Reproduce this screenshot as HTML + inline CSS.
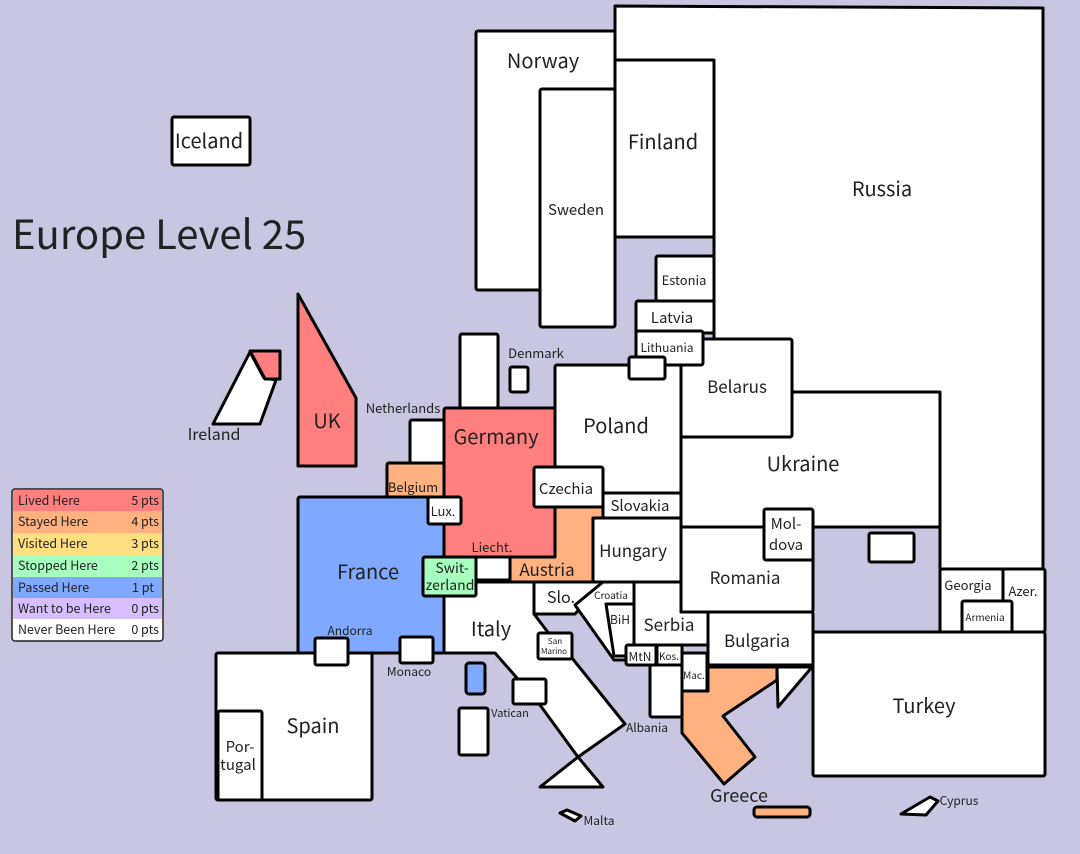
<!DOCTYPE html>
<html><head><meta charset="utf-8"><style>
html,body{margin:0;padding:0;background:#c8c6e0;}
svg{display:block;}
text{font-family:"Noto Sans CJK JP","Liberation Sans",sans-serif;fill:#222;}
.s{stroke:#000;stroke-width:3;stroke-linejoin:round;}
.w{fill:#fff;}
</style></head><body>
<svg width="1080" height="854" viewBox="0 0 1080 854" xmlns="http://www.w3.org/2000/svg">
<rect width="1080" height="854" fill="#c8c6e0"/>
<g class="s">
<polygon class="w" points="615,6 1043,8 1043,569 940,569 940,392 714,392 714,60 615,60"/>
<rect class="w" x="476" y="31" width="139" height="259" rx="2"/>
<rect class="w" x="540" y="89" width="75" height="238" rx="2"/>
<rect class="w" x="615" y="60" width="99" height="177" rx="2"/>
<rect class="w" x="656" y="256" width="58" height="45" rx="2"/>
<rect class="w" x="636" y="301" width="78" height="32" rx="2"/>
<rect class="w" x="681" y="392" width="259" height="135" rx="2"/>
<rect class="w" x="681" y="339" width="111" height="98" rx="2"/>
<rect class="w" x="555" y="365" width="126" height="128" rx="2"/>
<rect class="w" x="636" y="331" width="67" height="34" rx="2"/>
<rect class="w" x="629" y="357" width="36" height="22" rx="2"/>
<rect class="w" x="869" y="533" width="45" height="29" rx="2"/>
<rect class="w" x="681" y="527" width="132" height="85" rx="2"/>
<rect class="w" x="764" y="509" width="49" height="51" rx="2"/>
<rect class="w" x="940" y="569" width="63" height="63" rx="2"/>
<rect class="w" x="1003" y="569" width="42" height="63" rx="2"/>
<rect class="w" x="962" y="601" width="50" height="31" rx="2"/>
<rect class="w" x="813" y="632" width="232" height="144" rx="2"/>
<rect class="w" x="460" y="334" width="38" height="74" rx="2"/>
<rect class="w" x="510" y="367" width="18" height="25" rx="2"/>
<polygon fill="#ffb27f" points="555,507 603,507 603,518 593,518 593,582 510,582 510,557 555,557"/>
<rect fill="#ff7f7f" x="444" y="408" width="111" height="149" rx="2"/>
<rect class="w" x="534" y="467" width="69" height="40" rx="2"/>
<rect class="w" x="603" y="493" width="78" height="25" rx="2"/>
<rect class="w" x="593" y="518" width="88" height="64" rx="2"/>
<rect class="w" x="410" y="420" width="34" height="54" rx="2"/>
<rect fill="#ffb27f" x="387" y="463" width="57" height="34" rx="2"/>
<rect fill="#7fa9ff" x="298" y="497" width="146" height="156" rx="2"/>
<rect class="w" x="428" y="497" width="33" height="27" rx="2"/>
<polygon class="w" points="444,582 534,582 534,614 550,635 572,658 625,724 578,757 540,705 517,678 495,653 444,653"/>
<polygon class="w" points="578,757 603,787 540,787"/>
<rect fill="#a6ffbf" x="423" y="557" width="53" height="39" rx="2"/>
<rect class="w" x="476" y="557" width="34" height="23" rx="2"/>
<polygon class="w" points="534,582 603,582 575,614 534,614"/>
<polygon class="w" points="603,582 634,582 634,660 614,660 575,605"/>
<polygon class="w" points="606,604 634,604 634,656 614,656"/>
<polygon class="w" points="634,582 681,582 681,612 708,612 708,645 634,645"/>
<rect class="w" x="708" y="612" width="105" height="53" rx="2"/>
<rect class="w" x="626" y="645" width="30" height="20" rx="2"/>
<rect class="w" x="657" y="645" width="25" height="20" rx="2"/>
<rect class="w" x="650" y="665" width="32" height="52" rx="2"/>
<rect class="w" x="682" y="653" width="25" height="38" rx="2"/>
<polygon fill="#ffb27f" points="682,691 708,691 708,667 777,667 777,680 723,716 755,757 724,784 682,733"/>
<polygon class="w" points="777,667 812,667 778,707"/>
<rect class="w" x="538" y="633" width="34" height="26" rx="2"/>
<rect class="w" x="513" y="679" width="33" height="25" rx="2"/>
<rect fill="#7fa9ff" x="466" y="663" width="19" height="31" rx="3"/>
<rect class="w" x="459" y="708" width="29" height="47" rx="2"/>
<rect class="w" x="216" y="653" width="156" height="147" rx="2"/>
<rect class="w" x="218" y="711" width="44" height="89" rx="2"/>
<rect class="w" x="315" y="638" width="33" height="27" rx="2"/>
<rect class="w" x="400" y="637" width="33" height="26" rx="2"/>
<polygon fill="#ff7f7f" points="298,294 356,398 356,466 298,466"/>
<polygon class="w" points="213,424 250,352 264,378 276,380 260,424"/>
<polygon fill="#ff7f7f" points="250,351 280,351 280,379 265,379"/>
<rect class="w" x="172" y="117" width="78" height="48" rx="2"/>
<polygon class="w" points="560,813 567,810 581,816 575,821"/>
<polygon class="w" points="901,814 930,797 938,801 926,815"/>
<rect fill="#ffb27f" x="754" y="807" width="56" height="10" rx="3"/>
</g>
<text x="12" y="249" font-size="40">Europe Level 25</text>
<g font-size="20" text-anchor="middle">
<text x="543" y="68">Norway</text>
<text x="663" y="149">Finland</text>
<text x="882" y="196">Russia</text>
<text x="209" y="148">Iceland</text>
<text x="616" y="433">Poland</text>
<text x="803" y="471">Ukraine</text>
<text x="496" y="444">Germany</text>
<text x="368" y="579">France</text>
<text x="491" y="636">Italy</text>
<text x="313" y="733">Spain</text>
<text x="327" y="428">UK</text>
<text x="924" y="713">Turkey</text>
</g>
<g font-size="17" text-anchor="middle">
<text x="737" y="393">Belarus</text>
<text x="576" y="215" font-size="15">Sweden</text>
<text x="566" y="494" font-size="15">Czechia</text>
<text x="640" y="511" font-size="15">Slovakia</text>
<text x="633" y="557">Hungary</text>
<text x="745" y="584">Romania</text>
<text x="669" y="631">Serbia</text>
<text x="757" y="647">Bulgaria</text>
<text x="547" y="576">Austria</text>
<text x="561" y="603" font-size="16">Slo.</text>
<text x="672" y="323" font-size="15">Latvia</text>
<text x="786" y="529" font-size="15">Mol-</text>
<text x="786" y="550" font-size="15">dova</text>
<text x="452" y="573" font-size="14">Swit-</text>
<text x="450" y="590" font-size="14">zerland</text>
<text x="240" y="752" font-size="15">Por-</text>
<text x="238" y="770" font-size="15">tugal</text>
<text x="739" y="802" font-size="18">Greece</text>
<text x="214" y="440" font-size="16">Ireland</text>
</g>
<g font-size="13" text-anchor="middle">
<text x="684" y="285">Estonia</text>
<text x="667" y="352" font-size="12">Lithuania</text>
<text x="536" y="358">Denmark</text>
<text x="403" y="413">Netherlands</text>
<text x="413" y="492">Belgium</text>
<text x="443" y="516">Lux.</text>
<text x="492" y="552">Liecht.</text>
<text x="350" y="635" font-size="12">Andorra</text>
<text x="409" y="676" font-size="12">Monaco</text>
<text x="510" y="717" font-size="11">Vatican</text>
<text x="647" y="732" font-size="12">Albania</text>
<text x="611" y="599" font-size="10">Croatia</text>
<text x="620" y="624" font-size="12">BiH</text>
<text x="640" y="661" font-size="12">MtN</text>
<text x="669" y="660" font-size="10">Kos.</text>
<text x="694" y="679" font-size="10">Mac.</text>
<text x="555" y="644" font-size="8">San</text>
<text x="554" y="654" font-size="8">Marino</text>
<text x="968" y="590">Georgia</text>
<text x="1023" y="596">Azer.</text>
<text x="985" y="621" font-size="10">Armenia</text>
<text x="599" y="825" font-size="12">Malta</text>
<text x="959" y="805" font-size="12">Cyprus</text>
</g>
<g>
<rect x="12" y="489" width="151" height="152" rx="3" fill="#fff" stroke="#222" stroke-width="1.5"/>
<rect x="13" y="490" width="149" height="21" fill="#ff7f7f"/>
<rect x="13" y="511" width="149" height="22" fill="#ffb27f"/>
<rect x="13" y="533" width="149" height="22" fill="#ffdf7f"/>
<rect x="13" y="555" width="149" height="22" fill="#a6ffbf"/>
<rect x="13" y="577" width="149" height="21" fill="#7fa9ff"/>
<rect x="13" y="598" width="149" height="21" fill="#d7bfff"/>
<g font-size="12.5">
<text x="18" y="505">Lived Here</text><text x="159" y="505" text-anchor="end">5 pts</text>
<text x="18" y="526">Stayed Here</text><text x="159" y="526" text-anchor="end">4 pts</text>
<text x="18" y="548">Visited Here</text><text x="159" y="548" text-anchor="end">3 pts</text>
<text x="18" y="570">Stopped Here</text><text x="159" y="570" text-anchor="end">2 pts</text>
<text x="18" y="592">Passed Here</text><text x="154" y="592" text-anchor="end">1 pt</text>
<text x="18" y="613">Want to be Here</text><text x="159" y="613" text-anchor="end">0 pts</text>
<text x="18" y="634">Never Been Here</text><text x="159" y="634" text-anchor="end">0 pts</text>
</g>
</g>
</svg>
</body></html>
